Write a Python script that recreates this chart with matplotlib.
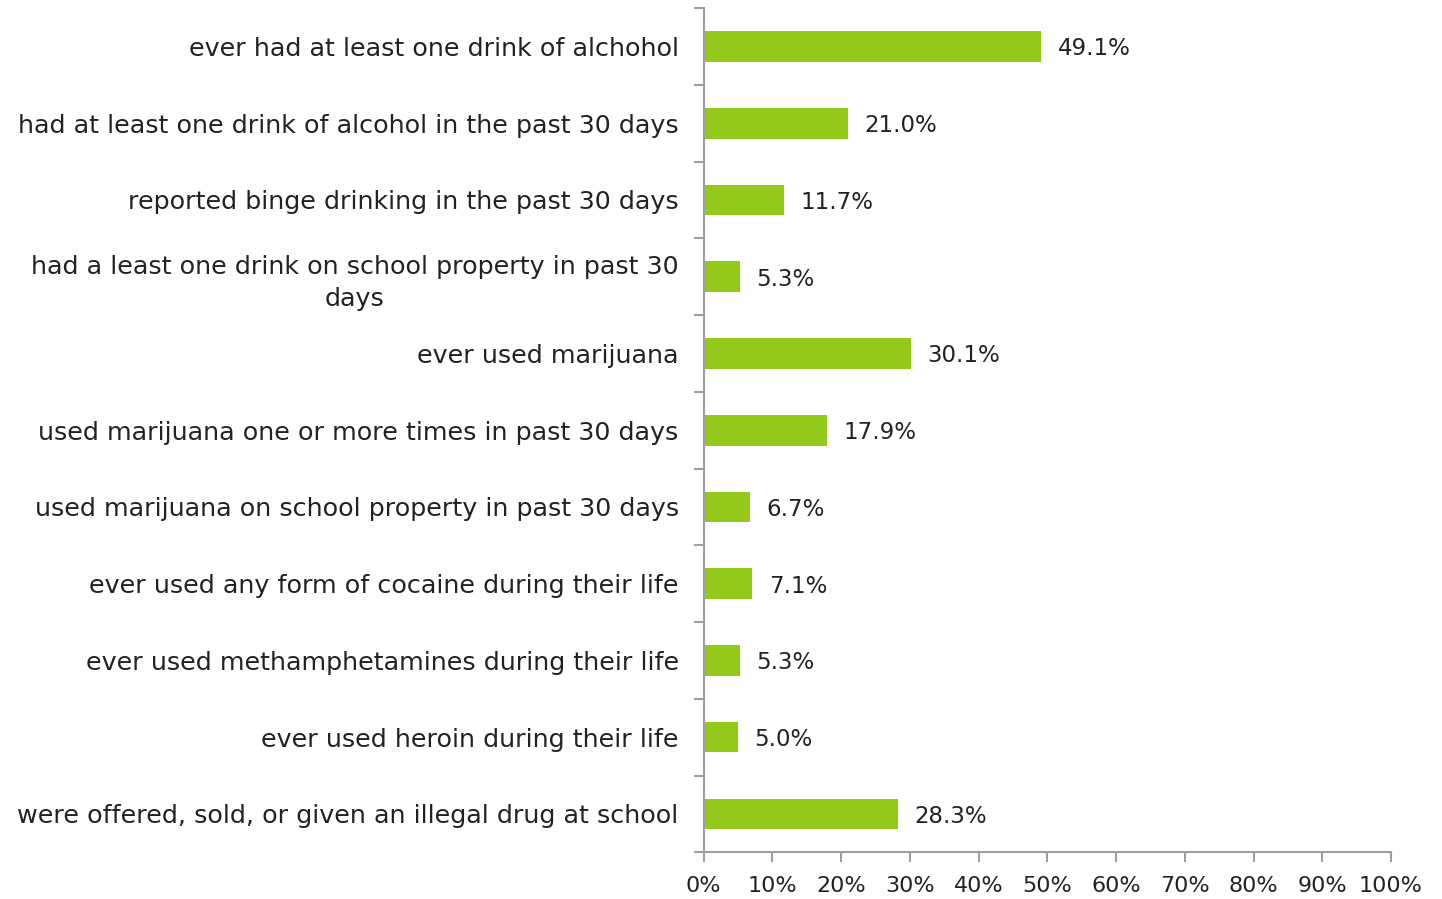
import matplotlib.pyplot as plt
import numpy as np

# survey items, top to bottom
categories = [
    "ever had at least one drink of alchohol",
    "had at least one drink of alcohol in the past 30 days",
    "reported binge drinking in the past 30 days",
    "had a least one drink on school property in past 30\ndays",
    "ever used marijuana",
    "used marijuana one or more times in past 30 days",
    "used marijuana on school property in past 30 days",
    "ever used any form of cocaine during their life",
    "ever used methamphetamines during their life",
    "ever used heroin during their life",
    "were offered, sold, or given an illegal drug at school",
]
values = [49.1, 21.0, 11.7, 5.3, 30.1, 17.9, 6.7, 7.1, 5.3, 5.0, 28.3]
xticks = list(range(0, 101, 10))

plt.rcParams['font.family'] = ['DejaVu Sans']

fig = plt.figure(figsize=(14.42, 8.99), dpi=100)
ax = fig.add_axes([0.488, 0.052, 0.4766, 0.939])

y = np.arange(len(categories))
ax.barh(y, values, height=0.4, color='#92C91B')
for yi, v in zip(y, values):
    ax.text(v + 2.4, yi, f"{v:.1f}%", va='center_baseline', ha='left',
            fontsize=16.5, color='#222222')

ax.set_xlim(0, 100)
ax.set_ylim(len(categories) - 0.5, -0.5)
ax.set_xticks(xticks)
ax.set_xticklabels([f"{t}%" for t in xticks], fontsize=16, color='#222222')
ax.set_yticks(y)
labels = ax.set_yticklabels(categories, fontsize=18.3, color='#222222')
for lb in labels:
    lb.set_multialignment('center')
    lb.set_linespacing(1.4)
ax.set_yticks(np.arange(-0.5, len(categories), 1), minor=True)
ax.tick_params(axis='y', which='major', length=0, pad=18)
ax.tick_params(axis='y', which='minor', length=7, color='#A0A0A0', width=1.5)
ax.tick_params(axis='x', length=7, color='#A0A0A0', width=1.5, pad=10)

for s in ['top', 'right']:
    ax.spines[s].set_visible(False)
for s in ['left', 'bottom']:
    ax.spines[s].set_color('#A0A0A0')
    ax.spines[s].set_linewidth(1.5)

fig.savefig('out.png', dpi=100)
